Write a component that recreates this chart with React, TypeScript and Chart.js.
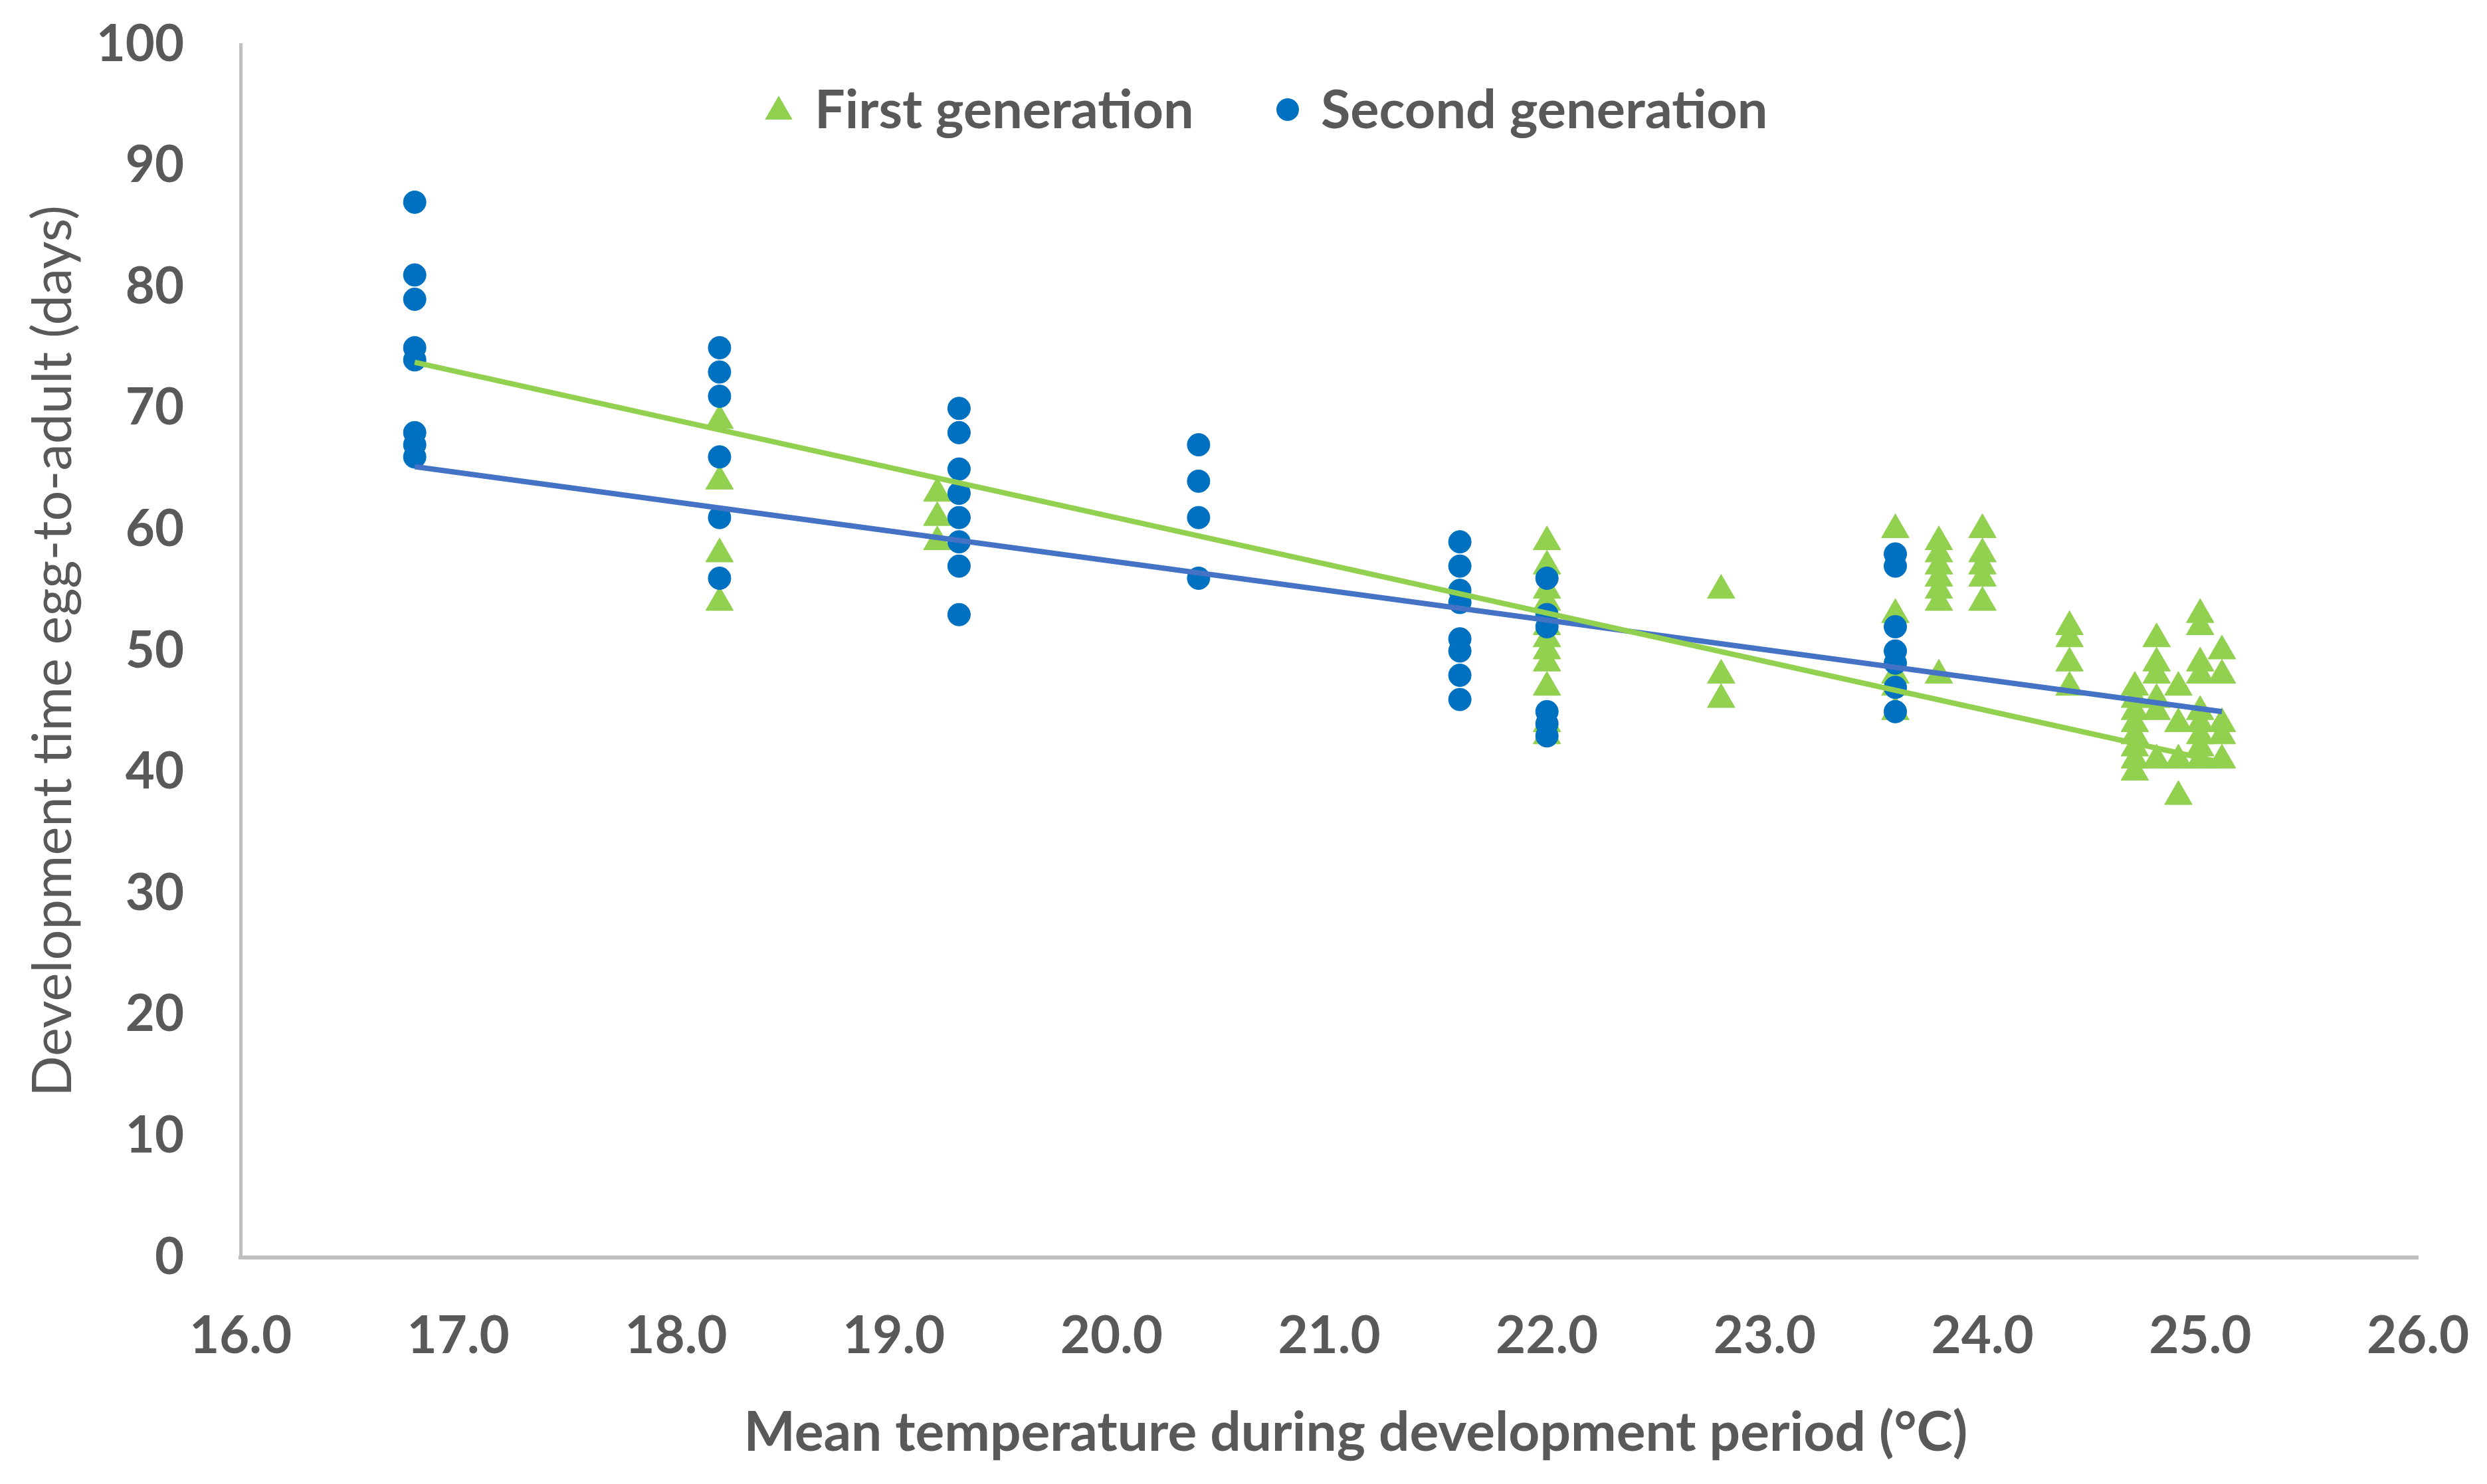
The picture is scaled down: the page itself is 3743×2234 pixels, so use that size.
import React, { useEffect, useRef } from 'react';
import { Chart, registerables } from 'chart.js';

Chart.register(...registerables);

// ---- Data ----
const firstGenTemp = [
  18.2, 18.2, 18.2, 18.2,
  19.2, 19.2, 19.2,
  22.0, 22.0, 22.0, 22.0, 22.0, 22.0, 22.0, 22.0, 22.0, 22.0, 22.0,
  22.8, 22.8, 22.8,
  23.6, 23.6, 23.6, 23.6, 23.6,
  23.8, 23.8, 23.8, 23.8, 23.8, 23.8, 23.8,
  24.0, 24.0, 24.0, 24.0, 24.0,
  24.4, 24.4, 24.4, 24.4,
  24.7, 24.7, 24.7, 24.7, 24.7, 24.7, 24.7, 24.7,
  24.8, 24.8, 24.8, 24.8, 24.8, 24.8,
  24.9, 24.9, 24.9, 24.9,
  25.0, 25.0, 25.0, 25.0, 25.0, 25.0, 25.0, 25.0, 25.0,
  25.1, 25.1, 25.1, 25.1, 25.1,
];
const firstGenDays = [
  69, 64, 58, 54,
  63, 61, 59,
  59, 57, 55, 54, 52, 51, 50, 49, 47, 44, 43,
  55, 48, 46,
  60, 53, 48, 47, 45,
  59, 58, 57, 56, 55, 54, 48,
  60, 58, 57, 56, 54,
  52, 51, 49, 47,
  47, 46, 45, 44, 43, 42, 41, 40,
  51, 49, 48, 46, 45, 41,
  47, 44, 41, 38,
  53, 52, 49, 48, 45, 44, 43, 42, 41,
  50, 48, 44, 43, 41,
];

const secondGenTemp = [
  16.8, 16.8, 16.8, 16.8, 16.8, 16.8, 16.8, 16.8,
  18.2, 18.2, 18.2, 18.2, 18.2, 18.2,
  19.3, 19.3, 19.3, 19.3, 19.3, 19.3, 19.3, 19.3,
  20.4, 20.4, 20.4, 20.4,
  21.6, 21.6, 21.6, 21.6, 21.6, 21.6, 21.6, 21.6,
  22.0, 22.0, 22.0, 22.0, 22.0, 22.0,
  23.6, 23.6, 23.6, 23.6, 23.6, 23.6, 23.6,
];
const secondGenDays = [
  87, 81, 79, 75, 74, 68, 67, 66,
  75, 73, 71, 66, 61, 56,
  70, 68, 65, 63, 61, 59, 57, 53,
  67, 64, 61, 56,
  59, 57, 55, 54, 51, 50, 48, 46,
  56, 53, 52, 45, 44, 43,
  58, 57, 52, 50, 49, 47, 45,
];

// Linear trendlines (end points)
const trendTemp = [16.8, 25.1];
const firstTrendDays = [73.8, 40.8];
const secondTrendDays = [65.2, 45.0];

const seriesNames = ['First generation', 'Second generation'];
const xTitle = '    Mean temperature during development period (°C)';
const yTitle = 'Development time egg-to-adult (days)';

const GREEN = '#92D050';
const BLUE_MARK = '#0070C0';
const BLUE_LINE = '#4472C4';
const TEXT = '#595959';
const AXIS = '#BFBFBF';
const FONT = 'Lato';

const toPoints = (xs: number[], ys: number[]) => xs.map((x, i) => ({ x, y: ys[i] }));

const legendPlugin = {
  id: 'insideLegend',
  afterDraw(chart: any) {
    const ctx = chart.ctx as CanvasRenderingContext2D;
    ctx.save();
    // triangle marker
    const tx = 1164, ty = 160, r = 24;
    ctx.fillStyle = GREEN;
    ctx.beginPath();
    ctx.moveTo(tx, ty - r);
    ctx.lineTo(tx + Math.sin((2 * Math.PI) / 3) * r, ty + r / 2);
    ctx.lineTo(tx - Math.sin((2 * Math.PI) / 3) * r, ty + r / 2);
    ctx.closePath();
    ctx.fill();
    // circle marker
    ctx.fillStyle = BLUE_MARK;
    ctx.beginPath();
    ctx.arc(1930, 157, 17, 0, Math.PI * 2);
    ctx.fill();
    // labels
    ctx.fillStyle = TEXT;
    ctx.font = `bold 81px ${FONT}`;
    ctx.textBaseline = 'alphabetic';
    ctx.textAlign = 'left';
    ctx.fillText(seriesNames[0], 1218, 185);
    ctx.fillText(seriesNames[1], 1980, 185);
    ctx.restore();
  },
};

export default function App() {
  const canvasRef = useRef<HTMLCanvasElement | null>(null);

  useEffect(() => {
    if (!canvasRef.current) return;
    const chart = new Chart(canvasRef.current, {
      type: 'scatter',
      data: {
        datasets: [
          {
            label: 'First trend',
            data: toPoints(trendTemp, firstTrendDays),
            showLine: true,
            borderColor: GREEN,
            borderWidth: 8,
            pointRadius: 0,
            borderCapStyle: 'butt',
          },
          {
            label: 'Second trend',
            data: toPoints(trendTemp, secondTrendDays),
            showLine: true,
            borderColor: BLUE_LINE,
            borderWidth: 8,
            pointRadius: 0,
            borderCapStyle: 'butt',
          },
          {
            label: seriesNames[1],
            data: toPoints(secondGenTemp, secondGenDays),
            pointStyle: 'circle',
            pointRadius: 17,
            pointBackgroundColor: BLUE_MARK,
            pointBorderColor: BLUE_MARK,
            pointBorderWidth: 1,
          },
          {
            label: seriesNames[0],
            data: toPoints(firstGenTemp, firstGenDays),
            pointStyle: 'triangle',
            pointRadius: 24,
            pointBackgroundColor: GREEN,
            pointBorderColor: GREEN,
            pointBorderWidth: 1,
          },
        ],
      },
      options: {
        responsive: true,
        maintainAspectRatio: false,
        animation: false,
        layout: { padding: { top: 59, right: 96, left: 0, bottom: 0 } },
        plugins: {
          legend: { display: false },
          tooltip: { enabled: false },
        },
        scales: {
          x: {
            type: 'linear',
            min: 16,
            max: 26,
            ticks: {
              stepSize: 1,
              autoSkip: false,
              maxRotation: 0,
              padding: 72,
              color: TEXT,
              font: { family: FONT, size: 78, weight: 'bold' },
              callback: (v: any) => Number(v).toFixed(1),
            },
            grid: { color: 'rgba(0,0,0,0)', drawTicks: false },
            border: { display: true, color: AXIS, width: 6 },
            title: {
              display: true,
              text: xTitle,
              color: TEXT,
              font: { family: FONT, size: 82, weight: 'bold' },
              padding: { top: 0, bottom: 19 },
            },
            afterFit: (s: any) => {
              s.height = 333;
              s.paddingLeft = 0;
              s.paddingRight = 0;
            },
          },
          y: {
            type: 'linear',
            min: 0,
            max: 100,
            ticks: {
              stepSize: 10,
              padding: 85,
              color: TEXT,
              font: { family: FONT, size: 76, weight: 'bold' },
            },
            grid: { color: 'rgba(0,0,0,0)', drawTicks: false },
            border: { display: true, color: AXIS, width: 5 },
            title: {
              display: true,
              text: yTitle,
              color: TEXT,
              font: { family: FONT, size: 81, weight: 'normal' },
              padding: { top: 24, bottom: 0 },
            },
            afterFit: (s: any) => {
              s.width = 354;
              s.paddingTop = 0;
              s.paddingBottom = 0;
            },
          },
        },
      },
      plugins: [legendPlugin],
    } as any);
    return () => chart.destroy();
  }, []);

  return (
    <div style={{ width: 3727, height: 2218, position: 'relative' }}>
      <canvas ref={canvasRef} />
    </div>
  );
}
